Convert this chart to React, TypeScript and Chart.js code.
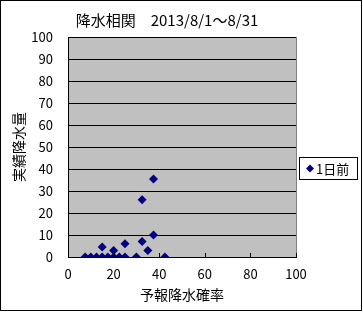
import React, { useEffect, useRef } from "react";
import { Chart, registerables } from "chart.js";

Chart.register(...registerables);

const chartTitle = "降水相関　2013/8/1～8/31";
const xAxisTitle = "予報降水確率";
const yAxisTitle = "実績降水量";
const seriesLabel = "1日前";

const forecastProb = [7.5, 10, 12.5, 15, 17.5, 20, 22.5, 25, 30, 42.5, 15, 20, 25, 32.5, 35, 37.5, 32.5, 37.5];
const actualRain = [0, 0, 0, 0, 0, 0, 0, 0, 0, 0, 4.5, 3, 6, 7, 3, 10, 26, 35.5];

const FONT = "'Noto Sans CJK JP', sans-serif";

const decorPlugin = {
  id: "decor",
  beforeDraw(chart: any) {
    const { ctx, chartArea } = chart;
    ctx.save();
    ctx.fillStyle = "#ffffff";
    ctx.fillRect(0, 0, chart.width, chart.height);
    ctx.fillStyle = "#c0c0c0";
    ctx.fillRect(chartArea.left, chartArea.top, chartArea.right - chartArea.left, chartArea.bottom - chartArea.top);
    ctx.restore();
  },
  afterDraw(chart: any) {
    const { ctx, chartArea } = chart;
    ctx.save();
    ctx.strokeStyle = "#808080";
    ctx.lineWidth = 1;
    ctx.beginPath();
    ctx.moveTo(Math.round(chartArea.right) + 0.5, chartArea.top);
    ctx.lineTo(Math.round(chartArea.right) + 0.5, chartArea.bottom);
    ctx.stroke();
    const xs = chart.scales.x;
    ctx.strokeStyle = "#000000";
    ctx.beginPath();
    xs.ticks.forEach((t: any) => {
      const px = Math.round(xs.getPixelForValue(t.value)) + 0.5;
      ctx.moveTo(px, chartArea.bottom);
      ctx.lineTo(px, chartArea.bottom - 4);
    });
    ctx.stroke();
    ctx.strokeStyle = "#000000";
    ctx.strokeRect(0.5, 0.5, chart.width - 2, chart.height - 2);
    ctx.fillStyle = "#000000";
    ctx.font = `15px ${FONT}`;
    ctx.textAlign = "center";
    ctx.textBaseline = "middle";
    ctx.fillText(chartTitle, 167, 20);
    ctx.strokeRect(299.5, 157.5, 58, 22);
    ctx.fillStyle = "#000080";
    ctx.beginPath();
    const cx = 310, cy = 168.5, r = 4;
    ctx.moveTo(cx, cy - r);
    ctx.lineTo(cx + r, cy);
    ctx.lineTo(cx, cy + r);
    ctx.lineTo(cx - r, cy);
    ctx.closePath();
    ctx.fill();
    ctx.fillStyle = "#000000";
    ctx.font = `13px ${FONT}`;
    ctx.textAlign = "left";
    ctx.fillText(seriesLabel, 316, 169);
    ctx.restore();
  },
};

export default function App() {
  const ref = useRef<HTMLCanvasElement | null>(null);
  useEffect(() => {
    document.body.style.margin = "0";
    const canvas = ref.current!;
    const chart = new Chart(canvas, {
      type: "scatter",
      data: {
        datasets: [
          {
            label: seriesLabel,
            data: forecastProb.map((x, i) => ({ x, y: actualRain[i] })),
            backgroundColor: "#000080",
            borderColor: "#000080",
            pointStyle: "rectRot",
            pointRadius: 4.5,
            pointBorderWidth: 0,
          },
        ],
      },
      options: {
        animation: false,
        responsive: false,
        layout: { padding: { top: 37, right: 67, bottom: 0, left: 0 } },
        plugins: { legend: { display: false }, title: { display: false }, tooltip: { enabled: false } },
        scales: {
          x: {
            type: "linear",
            min: 0,
            max: 100,
            ticks: { stepSize: 20, color: "#000", font: { family: FONT, size: 13 }, padding: 9 },
            grid: { display: false, drawTicks: false },
            border: { display: true, color: "#000" },
            title: { display: true, text: xAxisTitle, color: "#000", font: { family: FONT, size: 14 }, padding: { top: 0, bottom: 9 } },
            afterFit: (s: any) => { s.height = 55; },
          },
          y: {
            type: "linear",
            min: 0,
            max: 100,
            ticks: { stepSize: 10, color: "#000", font: { family: FONT, size: 13 }, padding: 15 },
            grid: { color: "#000", drawTicks: false },
            border: { display: true, color: "#000" },
            title: { display: true, text: yAxisTitle, color: "#000", font: { family: FONT, size: 14 }, padding: { top: 10, bottom: 0 } },
            afterFit: (s: any) => { s.width = 68; },
          },
        },
      },
      plugins: [decorPlugin],
    });
    return () => chart.destroy();
  }, []);
  return <canvas ref={ref} width={363} height={312} style={{ display: "block" }} />;
}
